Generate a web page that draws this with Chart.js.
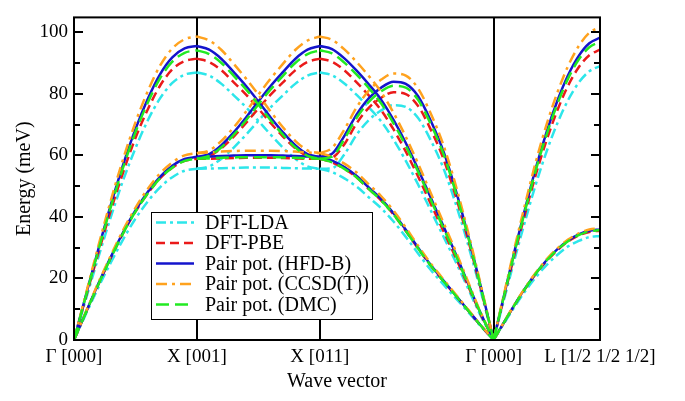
<!DOCTYPE html>
<html>
<head>
<meta charset="utf-8">
<script src="https://cdn.jsdelivr.net/npm/chart.js@4.4.1/dist/chart.umd.min.js"></script>
<style>
  html, body { margin: 0; padding: 0; background: #fff; }
  #wrap { width: 685px; height: 401px; }
</style>
</head>
<body>
<div id="wrap"><canvas id="graficoFonons" width="685" height="401"></canvas></div>
<script>
// path positions (units of 2pi/a): G-X, X-X', X'-G, G-L
var qGX = [0, 0.1, 0.2, 0.3, 0.4, 0.5, 0.6, 0.7, 0.8, 0.9, 1];
var qXX = [1, 1.1, 1.2, 1.3, 1.4, 1.5, 1.6, 1.7, 1.8, 1.9, 2];
var qXG = [2, 2.1, 2.2, 2.3, 2.4, 2.5, 2.6, 2.7, 2.8, 2.9, 3.0, 3.1, 3.2, 3.3, 3.414];
var qGL = [3.414, 3.501, 3.587, 3.674, 3.760, 3.847, 3.934, 4.020, 4.107, 4.193, 4.280];

var tickPos = [0, 1, 2, 3.414, 4.280];
var tickLabels = ['\u0393 [000]', 'X [001]', 'X [011]', '\u0393 [000]', 'L [1/2 1/2 1/2]'];

// branch order: GX long, GX trans, XX flat, XX down, XX up, XG low, XG top, XG hump, GL long, GL trans
var branchGrid = [qGX, qGX, qXX, qXX, qXX, qXG, qXG, qXG, qGL, qGL];

var ldaBranches = [
  [0, 13.7, 27.1, 40, 51.9, 62.3, 71.3, 78.5, 83.5, 86.2, 86.9],
  [0, 8.7, 17.2, 25.2, 32.7, 39.4, 45, 49.6, 52.9, 55, 55.6],
  [55.6, 55.7, 55.8, 55.9, 56, 56, 56, 55.9, 55.8, 55.7, 55.6],
  [86.9, 85.9, 83.2, 79.5, 75.6, 71.2, 66.7, 62.5, 58.9, 56.4, 55.6],
  [55.6, 56.4, 58.9, 62.5, 66.7, 71.2, 75.6, 79.5, 83.2, 85.9, 86.9],
  [55.6, 54.5, 52.5, 49.8, 46.3, 42.8, 38.5, 33.5, 28.1, 22.9, 18.3, 13.8, 9.4, 4.9, 0],
  [86.9, 86, 83.3, 79.6, 75.5, 71, 65.1, 58.2, 50.5, 42.3, 34.1, 25.9, 17.3, 8.6, 0],
  [55.6, 55.8, 60.3, 66.7, 71.5, 74.6, 76.3, 75.7, 72.1, 65.1, 56.4, 45, 31.9, 17.3, 0],
  [0, 13.4, 26.5, 39.1, 50.9, 61.4, 70.5, 77.9, 83.6, 87.3, 89],
  [0, 5.5, 10.9, 16, 20.5, 24.4, 27.7, 30.4, 32.2, 33.4, 33.8]
];

var pbeBranches = [
  [0, 14.4, 28.5, 42.1, 54.5, 65.6, 74.9, 82.6, 87.9, 90.6, 91.4],
  [0, 9.2, 18.2, 26.7, 34.7, 41.7, 47.6, 52.5, 56, 58.2, 58.9],
  [58.9, 58.9, 59, 59.1, 59.2, 59.2, 59.2, 59.1, 59, 58.9, 58.9],
  [91.4, 90.3, 87.6, 83.7, 79.7, 75.2, 70.5, 66.1, 62.3, 59.7, 58.9],
  [58.9, 59.7, 62.3, 66.1, 70.5, 75.2, 79.7, 83.7, 87.6, 90.3, 91.4],
  [58.9, 57.7, 55.6, 52.8, 49, 45.3, 40.8, 35.4, 29.7, 24.3, 19.4, 14.7, 9.9, 5.1, 0],
  [91.4, 90.4, 87.6, 83.7, 79.4, 74.6, 68.4, 61.2, 53.1, 44.5, 35.9, 27.3, 18.2, 9.1, 0],
  [58.9, 59.3, 63.6, 70.4, 75.5, 78.7, 80.5, 79.9, 76, 68.6, 59.5, 47.5, 33.6, 18.2, 0],
  [0, 14.2, 28.1, 41.5, 54, 65.1, 74.7, 82.6, 88.6, 92.5, 94.3],
  [0, 5.8, 11.5, 16.8, 21.6, 25.7, 29.2, 32, 34, 35.1, 35.5]
];

var hfdBranches = [
  [0, 15, 29.8, 44, 57, 68.5, 78.3, 86.3, 91.8, 94.7, 95.5],
  [0, 9.3, 18.4, 27, 35, 42.1, 48.1, 53, 56.6, 58.8, 59.5],
  [59.5, 59.6, 59.8, 59.9, 60, 60, 60, 59.9, 59.8, 59.6, 59.5],
  [95.5, 94.3, 91.3, 87, 82.5, 77.5, 72.3, 67.5, 63.3, 60.4, 59.5],
  [59.5, 60.4, 63.3, 67.5, 72.3, 77.5, 82.5, 87, 91.3, 94.3, 95.5],
  [59.5, 58.3, 56.2, 53.3, 49.5, 45.8, 41.2, 35.8, 30, 24.5, 19.6, 14.8, 10, 5.2, 0],
  [95.5, 94.5, 91.5, 87.5, 83, 78, 71.5, 64, 55.5, 46.5, 37.5, 28.5, 19, 9.5, 0],
  [59.5, 60.5, 66.3, 73.3, 78.6, 82, 83.9, 83.2, 79.2, 71.5, 62, 49.5, 35, 19, 0],
  [0, 14.8, 29.3, 43.2, 56.2, 67.8, 77.8, 86, 92.3, 96.4, 98.2],
  [0, 5.9, 11.6, 17, 21.8, 26, 29.5, 32.3, 34.3, 35.5, 35.9]
];

var ccsdBranches = [
  [0, 15.5, 30.8, 45.4, 58.8, 70.7, 80.8, 89.1, 94.7, 97.7, 98.6],
  [0, 9.5, 18.8, 27.5, 35.7, 42.9, 49.1, 54.1, 57.7, 60, 60.7],
  [60.7, 60.9, 61.2, 61.4, 61.5, 61.5, 61.5, 61.4, 61.2, 60.9, 60.7],
  [98.6, 97.3, 94.2, 89.7, 84.9, 79.7, 74.2, 69.1, 64.7, 61.6, 60.7],
  [60.7, 61.6, 64.7, 69.1, 74.2, 79.7, 84.9, 89.7, 94.2, 97.3, 98.6],
  [60.7, 59.5, 57.3, 54.4, 50.5, 46.7, 42, 36.5, 30.6, 25, 20, 15.1, 10.2, 5.3, 0],
  [98.6, 97.5, 94.4, 90.3, 85.7, 80.5, 73.8, 66, 57.3, 48, 38.7, 29.4, 19.6, 9.8, 0],
  [60.7, 62.4, 68.4, 75.6, 81.1, 84.6, 86.6, 85.9, 81.7, 73.8, 64, 51.1, 36.1, 19.6, 0],
  [0, 15.3, 30.3, 44.7, 58.2, 70.2, 80.5, 89, 95.5, 99.8, 101.6],
  [0, 6, 11.7, 17.2, 22, 26.3, 29.8, 32.6, 34.6, 35.9, 36.3]
];

var dmcBranches = [
  [0, 14.8, 29.4, 43.3, 56.1, 67.5, 77.1, 85, 90.4, 93.3, 94.1],
  [0, 9.2, 18.2, 26.7, 34.7, 41.7, 47.6, 52.5, 56, 58.2, 58.9],
  [58.9, 59, 59.2, 59.3, 59.4, 59.4, 59.4, 59.3, 59.2, 59, 58.9],
  [94.1, 92.9, 90, 85.8, 81.4, 76.5, 71.4, 66.7, 62.6, 59.8, 58.9],
  [58.9, 59.8, 62.6, 66.7, 71.4, 76.5, 81.4, 85.8, 90, 92.9, 94.1],
  [58.9, 57.7, 55.6, 52.8, 49, 45.3, 40.8, 35.4, 29.7, 24.3, 19.4, 14.7, 9.9, 5.1, 0],
  [94.1, 93.1, 90.1, 86.2, 81.8, 76.8, 70.4, 63, 54.7, 45.8, 36.9, 28.1, 18.7, 9.4, 0],
  [58.9, 59.6, 65.3, 72.2, 77.4, 80.8, 82.6, 82, 78, 70.4, 61.1, 48.8, 34.5, 18.7, 0],
  [0, 14.6, 28.9, 42.6, 55.5, 66.9, 76.8, 84.9, 91.1, 95.1, 96.9],
  [0, 5.9, 11.5, 16.9, 21.7, 25.9, 29.4, 32.1, 34.1, 35.3, 35.7]
];

var seriesNames = ['DFT-LDA', 'DFT-PBE', 'Pair pot. (HFD-B)', 'Pair pot. (CCSD(T))', 'Pair pot. (DMC)'];
var seriesData = [ldaBranches, pbeBranches, hfdBranches, ccsdBranches, dmcBranches];

// styles
var seriesColors = ['#2de6ea', '#ea1a1a', '#1414cc', '#ffa21e', '#22ea22'];
var seriesDash = [[10, 4, 3, 4], [9, 5], [], [11, 5, 3, 5], [13, 6]];
var serif = '"Liberation Serif", "DejaVu Serif", serif';

var datasets = [];
seriesData.forEach(function(branches, s) {
  branches.forEach(function(vals, b) {
    var grid = branchGrid[b];
    datasets.push({
      label: seriesNames[s],
      data: grid.map(function(q, i) { return {x: q, y: vals[i]}; }),
      borderColor: seriesColors[s],
      borderDash: seriesDash[s],
      borderWidth: 2.5,
      pointRadius: 0,
      fill: false,
      cubicInterpolationMode: 'monotone',
      order: 4 - s
    });
  });
});

// frame, inward ticks and the legend box
var moldura = {
  id: 'moldura',
  afterDatasetsDraw: function(chart) {
    var ctx = chart.ctx, a = chart.chartArea, y = chart.scales.y;
    ctx.save();
    ctx.strokeStyle = '#000';
    ctx.lineWidth = 2;
    ctx.strokeRect(a.left, a.top, a.right - a.left, a.bottom - a.top);
    for (var v = 0; v <= 100; v += 10) {
      var py = Math.round(y.getPixelForValue(v));
      var len = (v % 20 === 0) ? 9 : 6;
      ctx.beginPath();
      ctx.moveTo(a.left, py); ctx.lineTo(a.left + len, py);
      ctx.moveTo(a.right, py); ctx.lineTo(a.right - len, py);
      ctx.stroke();
    }

    // legend
    var bx = 151, by = 212, bw = 221, bh = 107;
    ctx.fillStyle = '#fff';
    ctx.fillRect(bx, by, bw, bh);
    ctx.lineWidth = 1;
    ctx.strokeStyle = '#000';
    ctx.strokeRect(bx + 0.5, by + 0.5, bw, bh);
    ctx.font = '20px ' + serif;
    ctx.textBaseline = 'middle';
    for (var i = 0; i < seriesNames.length; i++) {
      var ry = 222.5 + i * 20.5;
      ctx.strokeStyle = seriesColors[i];
      ctx.lineWidth = 2.5;
      ctx.setLineDash(seriesDash[i]);
      ctx.beginPath();
      ctx.moveTo(156, ry); ctx.lineTo(194, ry);
      ctx.stroke();
      ctx.setLineDash([]);
      ctx.fillStyle = '#000';
      ctx.fillText(seriesNames[i], 205, ry + 1);
    }
    ctx.restore();
  }
};

new Chart(document.getElementById('graficoFonons').getContext('2d'), {
  type: 'line',
  data: { datasets: datasets },
  options: {
    responsive: false,
    animation: false,
    layout: { padding: { left: 0, right: 85, top: 5, bottom: 0 } },
    plugins: { legend: { display: false }, tooltip: { enabled: false } },
    scales: {
      x: {
        type: 'linear',
        min: 0,
        max: 4.280,
        afterBuildTicks: function(scale) {
          scale.ticks = tickPos.map(function(v) { return {value: v}; });
        },
        afterFit: function(scale) { scale.height = 61; },
        ticks: {
          autoSkip: false,
          maxRotation: 0,
          padding: 6,
          color: '#000',
          font: { family: serif, size: 19 },
          callback: function(value, index) { return tickLabels[index]; }
        },
        grid: {
          drawTicks: false,
          lineWidth: 2,
          color: function(c) {
            var v = c.tick ? c.tick.value : 0;
            return (v > 0.5 && v < 4) ? '#000' : 'rgba(0,0,0,0)';
          }
        },
        border: { display: false },
        title: {
          display: true,
          text: 'Wave vector',
          color: '#000',
          font: { family: serif, size: 20 },
          padding: { top: 0, bottom: 7 }
        }
      },
      y: {
        min: 0,
        max: 104.8,
        afterBuildTicks: function(scale) {
          scale.ticks = [0, 20, 40, 60, 80, 100].map(function(v) { return {value: v}; });
        },
        afterFit: function(scale) { scale.width = 74; },
        ticks: {
          padding: 6,
          color: '#000',
          font: { family: serif, size: 19 }
        },
        grid: { display: false, drawTicks: false },
        border: { display: false },
        title: {
          display: true,
          text: 'Energy (meV)',
          color: '#000',
          font: { family: serif, size: 20 },
          padding: { top: 13, bottom: 0 }
        }
      }
    }
  },
  plugins: [moldura]
});
</script>
</body>
</html>
